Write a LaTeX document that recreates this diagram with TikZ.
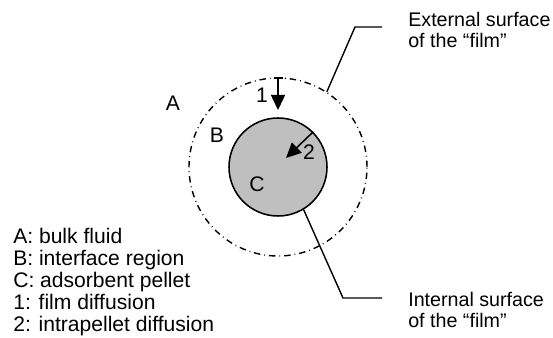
\documentclass[tikz,border=0pt]{standalone}
\usepackage{fontspec}
\setmainfont{Liberation Sans}
\usetikzlibrary{arrows.meta}
\begin{document}
\begin{tikzpicture}[scale=1.0,
  lbl/.style={font=\fontsize{15}{15.6}\selectfont, inner sep=0pt},
  txt/.style={lbl, align=left, anchor=west},
  sidetxt/.style={txt, font=\fontsize{14}{15}\selectfont},
  leader/.style={line width=1pt},
  flux/.style={line width=1.1pt}]
\useasboundingbox (0,0) rectangle (13.825,8.425);

\node[circle, draw, line width=1pt, dash pattern=on 0.16cm off 0.1cm on 0.02cm off 0.1cm,
  minimum size=4.45cm, inner sep=0pt] (film) at (6.95,4.25) {};
\node[circle, draw, line width=1.1pt, fill=gray!50, minimum size=2.45cm, inner sep=0pt] (pellet) at (6.95,4.25) {};

\node[lbl] (a) at (4.325,5.85) {A};
\node[lbl] (b) at (5.425,5.05) {B};
\node[lbl] (c) at (6.425,3.825) {C};
\node[lbl] (one) at (6.55,6.05) {1};
\node[lbl] (two) at (7.725,4.625) {2};

\coordinate (tip1) at (6.95,5.675);
\coordinate (tip2) at (7.15,4.475);
\draw[flux, {Bar[width=0.225cm]}-{Triangle[length=0.375cm,width=0.35cm]}] (film.north) -- (tip1);
\draw[flux, -{Triangle[length=0.375cm,width=0.35cm]}] (pellet.45) -- (tip2);

\coordinate (ext1) at (8.875,7.75);
\coordinate (ext2) at (9.55,7.75);
\coordinate (int1) at (8.575,0.975);
\coordinate (int2) at (9.55,0.975);
\draw[leader] (film.57) -- (ext1) -- (ext2);
\draw[leader] (pellet.-59) -- (int1) -- (int2);

\node[sidetxt] (exttext) at (10.2,7.675) {External surface\\of the “film”};
\node[sidetxt] (inttext) at (10.2,0.675) {Internal surface\\of the “film”};

\node[txt] (legend) at (0.325,1.375) {A: bulk fluid\\B: interface region\\C: adsorbent pellet\\1: film diffusion\\2: intrapellet diffusion};
\end{tikzpicture}
\end{document}
